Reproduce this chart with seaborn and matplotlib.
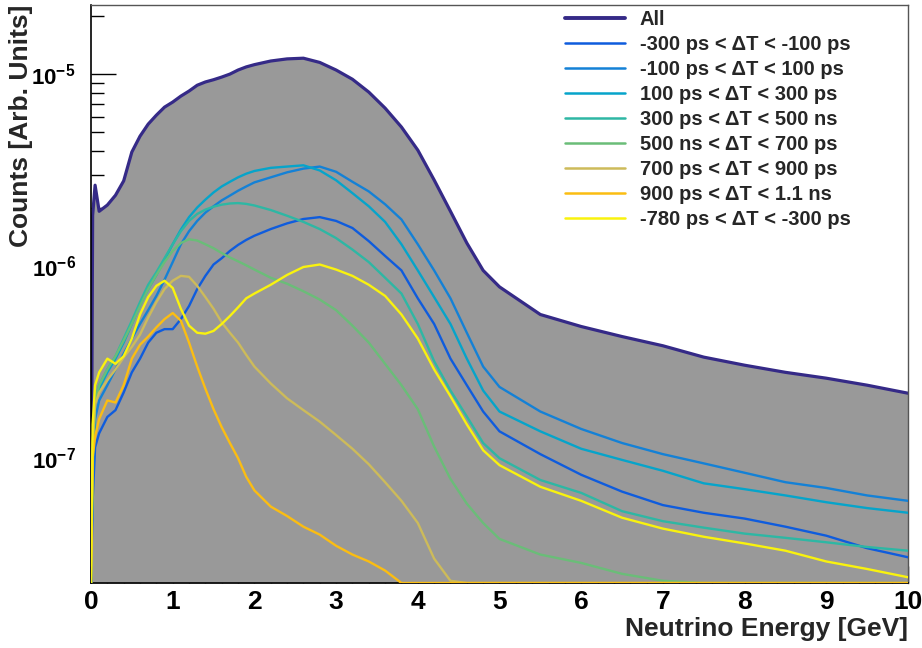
import numpy as np
import pandas as pd
import seaborn as sns
import matplotlib
matplotlib.use('Agg')
import matplotlib.pyplot as plt
from matplotlib.lines import Line2D
from matplotlib.ticker import MultipleLocator, LogLocator, FuncFormatter, NullFormatter

# Neutrino energy grid [GeV]
energy = [0.0, 0.02, 0.05, 0.1,
          0.2, 0.3, 0.4, 0.5, 0.6, 0.7, 0.8, 0.9, 1.0, 1.1, 1.2, 1.3, 1.4, 1.5, 1.6, 1.7, 1.8, 1.9, 2.0,
          2.2, 2.4, 2.6, 2.8, 3.0, 3.2, 3.4, 3.6, 3.8, 4.0, 4.2, 4.4, 4.6, 4.8, 5.0,
          5.5, 6.0, 6.5, 7.0, 7.5, 8.0, 8.5, 9.0, 9.5, 10.0]

all_counts = [0, 1.84e-6, 2.64e-6, 1.93e-6,
              2.08e-6, 2.34e-6, 2.78e-6, 3.93e-6, 4.75e-6, 5.49e-6, 6.11e-6, 6.73e-6, 7.15e-6, 7.68e-6,
              8.16e-6, 8.75e-6, 9.10e-6, 9.35e-6, 9.65e-6, 1.00e-5, 1.05e-5, 1.09e-5, 1.12e-5,
              1.17e-5, 1.20e-5, 1.21e-5, 1.15e-5, 1.05e-5, 9.40e-6, 8.06e-6, 6.65e-6, 5.30e-6, 4.02e-6,
              2.81e-6, 1.93e-6, 1.32e-6, 9.50e-7, 7.80e-7,
              5.60e-7, 4.85e-7, 4.30e-7, 3.85e-7, 3.36e-7, 3.05e-7, 2.80e-7, 2.61e-7, 2.40e-7, 2.18e-7]

dt_m300_m100 = [0, 6.0e-8, 1.14e-7, 1.35e-7,
                1.64e-7, 1.78e-7, 2.2e-7, 2.8e-7, 3.3e-7, 4.0e-7, 4.5e-7, 4.7e-7, 4.7e-7, 5.3e-7,
                6.2e-7, 7.6e-7, 8.9e-7, 1.02e-6, 1.10e-6, 1.20e-6, 1.29e-6, 1.37e-6, 1.44e-6,
                1.56e-6, 1.67e-6, 1.76e-6, 1.80e-6, 1.72e-6, 1.58e-6, 1.35e-6, 1.13e-6, 9.5e-7, 6.8e-7,
                5.0e-7, 3.3e-7, 2.4e-7, 1.75e-7, 1.38e-7,
                1.05e-7, 8.2e-8, 6.7e-8, 5.7e-8, 5.2e-8, 4.85e-8, 4.4e-8, 3.95e-8, 3.4e-8, 3.05e-8]

dt_m100_p100 = [0, 8.0e-8, 1.6e-7, 2.0e-7,
                2.4e-7, 2.9e-7, 3.5e-7, 4.2e-7, 5.0e-7, 5.9e-7, 7.0e-7, 8.5e-7, 1.05e-6, 1.30e-6,
                1.52e-6, 1.72e-6, 1.90e-6, 2.05e-6, 2.20e-6, 2.33e-6, 2.47e-6, 2.60e-6, 2.73e-6,
                2.90e-6, 3.08e-6, 3.22e-6, 3.30e-6, 3.10e-6, 2.75e-6, 2.45e-6, 2.10e-6, 1.75e-6, 1.30e-6,
                9.5e-7, 6.8e-7, 4.5e-7, 3.0e-7, 2.35e-7,
                1.75e-7, 1.42e-7, 1.20e-7, 1.05e-7, 9.4e-8, 8.4e-8, 7.5e-8, 7.0e-8, 6.4e-8, 6.0e-8]

dt_p100_p300 = [0, 1.0e-7, 1.9e-7, 2.3e-7,
                2.8e-7, 3.3e-7, 4.0e-7, 5.0e-7, 6.3e-7, 7.6e-7, 9.0e-7, 1.08e-6, 1.30e-6, 1.55e-6,
                1.80e-6, 2.02e-6, 2.22e-6, 2.42e-6, 2.60e-6, 2.75e-6, 2.90e-6, 3.03e-6, 3.13e-6,
                3.25e-6, 3.30e-6, 3.35e-6, 3.15e-6, 2.80e-6, 2.40e-6, 2.05e-6, 1.70e-6, 1.30e-6, 9.5e-7,
                6.9e-7, 5.0e-7, 3.3e-7, 2.25e-7, 1.75e-7,
                1.38e-7, 1.12e-7, 9.8e-8, 8.6e-8, 7.4e-8, 6.9e-8, 6.4e-8, 5.9e-8, 5.5e-8, 5.2e-8]

dt_p300_p500 = [0, 1.0e-7, 2.0e-7, 2.4e-7,
                2.9e-7, 3.4e-7, 4.2e-7, 5.2e-7, 6.5e-7, 8.0e-7, 9.3e-7, 1.10e-6, 1.30e-6, 1.52e-6,
                1.72e-6, 1.87e-6, 1.97e-6, 2.04e-6, 2.09e-6, 2.12e-6, 2.13e-6, 2.11e-6, 2.07e-6,
                1.96e-6, 1.83e-6, 1.70e-6, 1.56e-6, 1.40e-6, 1.22e-6, 1.05e-6, 8.7e-7, 7.2e-7, 5.0e-7,
                3.2e-7, 2.25e-7, 1.65e-7, 1.2e-7, 1.0e-7,
                7.7e-8, 6.6e-8, 5.3e-8, 4.7e-8, 4.35e-8, 4.05e-8, 3.85e-8, 3.65e-8, 3.45e-8, 3.3e-8]

dt_p500_p700 = [0, 1.0e-7, 2.0e-7, 2.4e-7,
                2.9e-7, 3.4e-7, 4.1e-7, 5.0e-7, 6.2e-7, 7.6e-7, 9.0e-7, 1.05e-6, 1.20e-6, 1.32e-6,
                1.38e-6, 1.36e-6, 1.30e-6, 1.24e-6, 1.17e-6, 1.11e-6, 1.06e-6, 1.01e-6, 9.6e-7,
                8.7e-7, 8.1e-7, 7.4e-7, 6.7e-7, 5.9e-7, 4.9e-7, 4.0e-7, 3.1e-7, 2.4e-7, 1.8e-7,
                1.15e-7, 7.8e-8, 5.8e-8, 4.6e-8, 3.8e-8,
                3.15e-8, 2.85e-8, 2.5e-8, 2.3e-8, 0, 0, 0, 0, 0, 0]

dt_p700_p900 = [0, 1.2e-7, 1.9e-7, 2.2e-7,
                2.55e-7, 2.9e-7, 3.35e-7, 3.8e-7, 4.4e-7, 5.4e-7, 6.5e-7, 7.6e-7, 8.4e-7, 8.9e-7,
                8.8e-7, 7.9e-7, 6.9e-7, 6.0e-7, 5.1e-7, 4.5e-7, 4.0e-7, 3.45e-7, 3.0e-7,
                2.45e-7, 2.05e-7, 1.78e-7, 1.55e-7, 1.32e-7, 1.12e-7, 9.3e-8, 7.5e-8, 6.0e-8, 4.6e-8,
                3.0e-8, 2.3e-8, 0, 0, 0,
                0, 0, 0, 0, 0, 0, 0, 0, 0, 0]

dt_p900_p1100 = [0, 1.0e-7, 1.3e-7, 1.6e-7,
                 2.0e-7, 1.95e-7, 2.4e-7, 3.3e-7, 3.9e-7, 4.3e-7, 4.8e-7, 5.3e-7, 5.7e-7, 5.2e-7,
                 4.0e-7, 3.0e-7, 2.3e-7, 1.8e-7, 1.45e-7, 1.2e-7, 1.0e-7, 8.0e-8, 6.8e-8,
                 5.6e-8, 5.0e-8, 4.4e-8, 4.0e-8, 3.5e-8, 3.15e-8, 2.9e-8, 2.6e-8, 0, 0,
                 0, 0, 0, 0, 0,
                 0, 0, 0, 0, 0, 0, 0, 0, 0, 0]

dt_m780_m300 = [0, 1.5e-7, 2.4e-7, 2.8e-7,
                3.3e-7, 3.1e-7, 3.4e-7, 4.2e-7, 5.6e-7, 6.9e-7, 7.9e-7, 8.4e-7, 7.7e-7, 6.0e-7,
                4.9e-7, 4.5e-7, 4.45e-7, 4.6e-7, 5.0e-7, 5.5e-7, 6.1e-7, 6.8e-7, 7.2e-7,
                8.0e-7, 9.0e-7, 9.9e-7, 1.02e-6, 9.6e-7, 8.9e-7, 8.0e-7, 7.0e-7, 5.6e-7, 4.2e-7,
                2.9e-7, 2.1e-7, 1.5e-7, 1.1e-7, 9.2e-8,
                7.1e-8, 6.0e-8, 4.9e-8, 4.3e-8, 3.9e-8, 3.6e-8, 3.3e-8, 2.9e-8, 2.65e-8, 2.4e-8]

labels = ['-300 ps < \u0394T < -100 ps', '-100 ps < \u0394T < 100 ps', '100 ps < \u0394T < 300 ps',
          '300 ps < \u0394T < 500 ns', '500 ns < \u0394T < 700 ps', '700 ps < \u0394T < 900 ps',
          '900 ps < \u0394T < 1.1 ns', '-780 ps < \u0394T < -300 ps']
series = [dt_m300_m100, dt_m100_p100, dt_p100_p300, dt_p300_p500,
          dt_p500_p700, dt_p700_p900, dt_p900_p1100, dt_m780_m300]
colors = ['#0f5cdd', '#1481d6', '#06a4ca', '#2eb7a4', '#6abd78', '#cdbb5a', '#fbbd12', '#f9f20e']
all_color = '#352a87'

ymin, ymax = 2.24e-8, 2.29e-5

sns.set_theme(style='white')
plt.rcParams['font.family'] = ['Liberation Sans', 'DejaVu Sans']
plt.rcParams['font.weight'] = 'bold'
plt.rcParams['mathtext.fontset'] = 'custom'
plt.rcParams['mathtext.rm'] = 'Liberation Sans:bold'
plt.rcParams['mathtext.bf'] = 'Liberation Sans:bold'

# long table, empty bins are drawn on the frame bottom like ROOT does
rows = []
for lab, vals in zip(labels, series):
    for e, v in zip(energy, vals):
        rows.append({'energy': e, 'counts': max(v, ymin), 'selection': lab})
df = pd.DataFrame(rows)
all_plot = np.clip(np.array(all_counts), ymin, None)

fig, ax = plt.subplots(figsize=(9.22, 6.48), dpi=100)
fig.subplots_adjust(left=0.0987, right=0.9848, bottom=0.1003, top=0.9923)

ax.fill_between(energy, ymin, all_plot, color='#999999', lw=0, zorder=1)
sns.lineplot(x=energy, y=all_plot, color=all_color, lw=2.3, ax=ax, zorder=2)
sns.lineplot(data=df, x='energy', y='counts', hue='selection', hue_order=labels,
             palette=dict(zip(labels, colors)), lw=1.7, ax=ax, legend=False, zorder=3)

ax.set_yscale('log')
ax.set_xlim(0, 10)
ax.set_ylim(ymin, ymax)

ax.xaxis.set_major_locator(MultipleLocator(1))
ax.xaxis.set_minor_locator(MultipleLocator(0.2))
ax.yaxis.set_major_locator(LogLocator(base=10, numticks=10))
ax.yaxis.set_minor_locator(LogLocator(base=10, subs=np.arange(2, 10), numticks=20))
ax.yaxis.set_major_formatter(FuncFormatter(lambda v, p: r'$\mathbf{10^{%d}}$' % round(np.log10(v))))
ax.yaxis.set_minor_formatter(NullFormatter())

ax.tick_params(axis='x', which='major', direction='in', length=12, width=1, labelsize=19, pad=5, colors='black')
ax.tick_params(axis='x', which='minor', direction='in', length=6.5, width=1, colors='black')
ax.tick_params(axis='y', which='major', direction='in', length=18, width=1, labelsize=16, pad=11, colors='black')
ax.tick_params(axis='y', which='minor', direction='in', length=9, width=1, colors='black')
ax.tick_params(bottom=True, left=True, top=False, right=False, which='both')

for side in ['left', 'bottom']:
    ax.spines[side].set_color('black')
    ax.spines[side].set_linewidth(1.2)
for side in ['top', 'right']:
    ax.spines[side].set_color('#555555')
    ax.spines[side].set_linewidth(1.0)

ax.set_xlabel('Neutrino Energy [GeV]', fontsize=19, fontweight='bold', loc='right', labelpad=2)
ax.set_ylabel('Counts [Arb. Units]', fontsize=19, fontweight='bold', loc='top')
ax.yaxis.set_label_coords(-0.071, 1.0)

handles = [Line2D([], [], color=all_color, lw=2.8)] + [Line2D([], [], color=c, lw=1.8) for c in colors]
ax.legend(handles, ['All'] + labels, loc='upper left', bbox_to_anchor=(565 / 922, 1 - 10 / 648),
          bbox_transform=fig.transFigure, frameon=False, handlelength=3.0, handletextpad=0.72,
          labelspacing=0.30, borderpad=0, borderaxespad=0, prop={'weight': 'bold', 'size': 14.5})

plt.savefig('out.png', dpi=100)
plt.close()
